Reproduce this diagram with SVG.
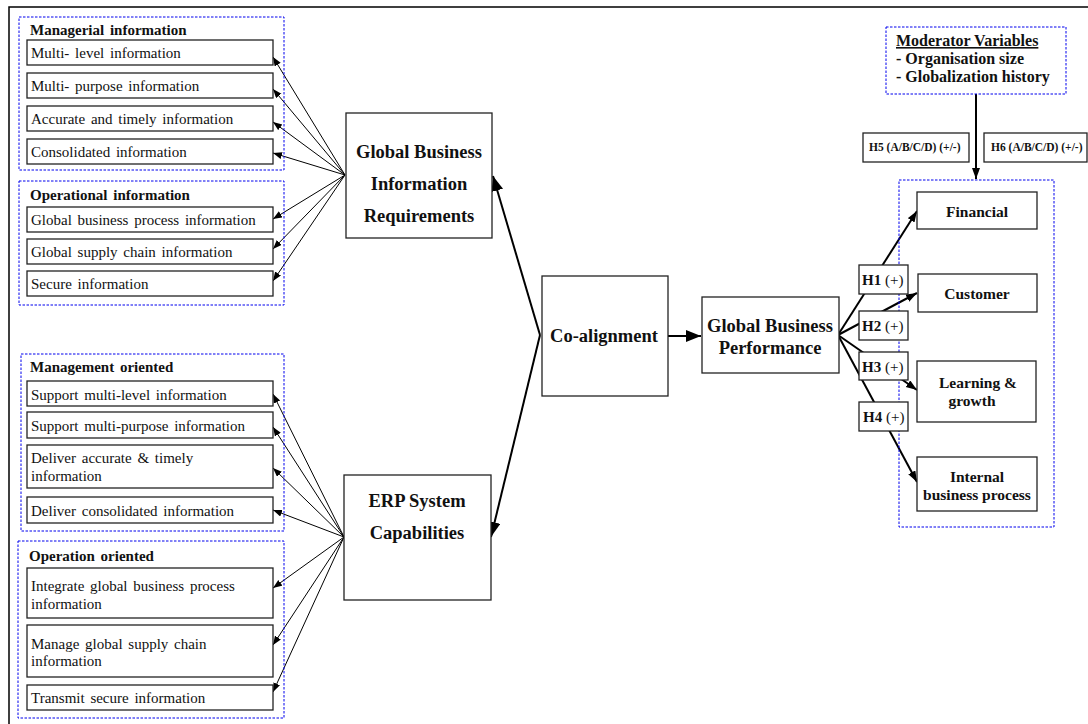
<svg xmlns="http://www.w3.org/2000/svg" width="1088" height="724" viewBox="0 0 1088 724">
<style>
.frame{fill:none;stroke:#000;stroke-width:1.5}
.grp{fill:none;stroke:#0000ee;stroke-width:1;stroke-dasharray:2.5,1.5}
.box{fill:#fff;stroke:#222;stroke-width:1.3}
.t{font-family:"Liberation Serif","Times New Roman",serif;font-size:15px;word-spacing:2px;fill:#111}
.tb{font-family:"Liberation Serif","Times New Roman",serif;font-size:15px;word-spacing:2px;font-weight:bold;fill:#111}
.big{font-family:"Liberation Serif","Times New Roman",serif;font-size:18.5px;font-weight:bold;fill:#111;text-anchor:middle}
.mid{font-family:"Liberation Serif","Times New Roman",serif;font-size:15.5px;font-weight:bold;fill:#111;text-anchor:middle}
.mod{font-family:"Liberation Serif","Times New Roman",serif;font-size:16px;font-weight:bold;fill:#111}
.h{font-family:"Liberation Serif","Times New Roman",serif;font-size:15px;fill:#111}
.hs{font-family:"Liberation Serif","Times New Roman",serif;font-size:11.5px;font-weight:bold;fill:#111}
.thin{stroke:#000;stroke-width:1;fill:none;marker-end:url(#ah)}
.thick{stroke:#000;stroke-width:2;fill:none}
</style>
<defs>
<marker id="ah" markerUnits="userSpaceOnUse" markerWidth="10" markerHeight="8" refX="9" refY="3.5" orient="auto"><path d="M0,0 L9,3.5 L0,7 z" fill="#000"/></marker>
<marker id="ahb" markerUnits="userSpaceOnUse" markerWidth="16" markerHeight="12" refX="15" refY="6" orient="auto"><path d="M0,0 L15,6 L0,12 z" fill="#000"/></marker>
<marker id="ahm" markerUnits="userSpaceOnUse" markerWidth="12" markerHeight="9" refX="11" refY="4" orient="auto"><path d="M0,0 L11,4 L0,8 z" fill="#000"/></marker>
</defs>
<path class="frame" d="M9,724 V7 H1088"/>

<g id="connectors">
<line class="thin" x1="345" y1="175" x2="273" y2="57"/>
<line class="thin" x1="345" y1="175" x2="273" y2="89"/>
<line class="thin" x1="345" y1="175" x2="273" y2="122"/>
<line class="thin" x1="345" y1="175" x2="273" y2="153"/>
<line class="thin" x1="345" y1="175" x2="273" y2="219"/>
<line class="thin" x1="345" y1="175" x2="273" y2="249"/>
<line class="thin" x1="345" y1="175" x2="273" y2="281"/>
<line class="thin" x1="344" y1="537" x2="273" y2="394"/>
<line class="thin" x1="344" y1="537" x2="273" y2="427"/>
<line class="thin" x1="344" y1="537" x2="273" y2="468"/>
<line class="thin" x1="344" y1="537" x2="273" y2="510"/>
<line class="thin" x1="344" y1="537" x2="273" y2="588"/>
<line class="thin" x1="344" y1="537" x2="273" y2="645"/>
<line class="thin" x1="344" y1="537" x2="273" y2="692"/>
<line class="thick" x1="540" y1="335" x2="493" y2="176" marker-end="url(#ahb)"/>
<line class="thick" x1="540" y1="335" x2="491" y2="537" marker-end="url(#ahb)"/>
<line class="thick" x1="668" y1="336" x2="701" y2="336" marker-end="url(#ahb)"/>
<line class="thick" x1="976" y1="94" x2="976" y2="179" marker-end="url(#ahm)"/>
<line class="thick" x1="838" y1="335" x2="917" y2="211" marker-end="url(#ahm)"/>
<line class="thick" x1="838" y1="335" x2="917" y2="293" marker-end="url(#ahm)"/>
<line class="thick" x1="838" y1="335" x2="917" y2="390" marker-end="url(#ahm)"/>
<line class="thick" x1="838" y1="335" x2="917" y2="482" marker-end="url(#ahm)"/>
</g>

<g id="managerial">
<rect class="grp" x="19" y="17" width="265" height="153"/>
<text class="tb" x="30" y="35">Managerial information</text>
<rect class="box" x="27" y="40" width="246" height="25"/><text class="t" x="31" y="58">Multi- level information</text>
<rect class="box" x="27" y="73" width="246" height="25"/><text class="t" x="31" y="91">Multi- purpose information</text>
<rect class="box" x="27" y="106" width="246" height="25"/><text class="t" x="31" y="124">Accurate and timely information</text>
<rect class="box" x="27" y="139" width="246" height="25"/><text class="t" x="31" y="157">Consolidated information</text>
</g>

<g id="operational">
<rect class="grp" x="19" y="181" width="265" height="124"/>
<text class="tb" x="30" y="200">Operational information</text>
<rect class="box" x="27" y="207" width="246" height="25"/><text class="t" x="31" y="225">Global business process information</text>
<rect class="box" x="27" y="239" width="246" height="25"/><text class="t" x="31" y="257">Global supply chain information</text>
<rect class="box" x="27" y="271" width="246" height="25"/><text class="t" x="31" y="289">Secure information</text>
</g>

<g id="management-oriented">
<rect class="grp" x="21" y="354" width="263" height="177"/>
<text class="tb" x="30" y="372">Management oriented</text>
<rect class="box" x="27" y="381" width="246" height="25"/><text class="t" x="31" y="400">Support multi-level information</text>
<rect class="box" x="27" y="412" width="246" height="26"/><text class="t" x="31" y="431">Support multi-purpose information</text>
<rect class="box" x="27" y="445" width="246" height="43"/><text class="t" x="31" y="463">Deliver accurate &amp; timely</text><text class="t" x="31" y="481">information</text>
<rect class="box" x="27" y="497" width="246" height="26"/><text class="t" x="31" y="516">Deliver consolidated information</text>
</g>

<g id="operation-oriented">
<rect class="grp" x="18" y="541" width="266" height="177"/>
<text class="tb" x="29" y="561">Operation oriented</text>
<rect class="box" x="27" y="568" width="246" height="50"/><text class="t" x="31" y="591">Integrate global business process</text><text class="t" x="31" y="609">information</text>
<rect class="box" x="27" y="625" width="246" height="52"/><text class="t" x="31" y="649">Manage global supply chain</text><text class="t" x="31" y="666">information</text>
<rect class="box" x="27" y="685" width="246" height="25"/><text class="t" x="31" y="703">Transmit secure information</text>
</g>

<g id="gbir">
<rect class="box" x="346" y="113" width="146" height="125"/>
<text class="big" x="419" y="158">Global Business</text>
<text class="big" x="419" y="190">Information</text>
<text class="big" x="419" y="222">Requirements</text>
</g>

<g id="erp">
<rect class="box" x="344" y="475" width="147" height="125"/>
<text class="big" x="417" y="507">ERP System</text>
<text class="big" x="417" y="539">Capabilities</text>
</g>

<g id="coalignment">
<rect class="box" x="542" y="276" width="126" height="120"/>
<text class="big" x="604" y="342">Co-alignment</text>
</g>

<g id="gbp">
<rect class="box" x="702" y="297" width="137" height="76"/>
<text class="big" x="770" y="332">Global Business</text>
<text class="big" x="770" y="354">Performance</text>
</g>

<g id="moderator">
<rect class="grp" x="886" y="27" width="180" height="67"/>
<text class="mod" x="896" y="46" text-decoration="underline">Moderator Variables</text>
<text class="mod" x="896" y="64">- Organisation size</text>
<text class="mod" x="896" y="82">- Globalization history</text>
</g>

<g id="h5">
<rect class="box" x="863" y="133" width="106" height="29"/>
<text class="hs" x="869" y="151">H5 (A/B/C/D) (+/-)</text>
</g>
<g id="h6">
<rect class="box" x="984" y="133" width="103" height="29"/>
<text class="hs" x="991" y="151">H6 (A/B/C/D) (+/-)</text>
</g>

<g id="performance-group">
<rect class="grp" x="899" y="180" width="155" height="347"/>
</g>

<g id="financial">
<rect class="box" x="917" y="192" width="120" height="37"/>
<text class="mid" x="977" y="217">Financial</text>
</g>
<g id="customer">
<rect class="box" x="918" y="274" width="119" height="38"/>
<text class="mid" x="977" y="299">Customer</text>
</g>
<g id="learning">
<rect class="box" x="917" y="361" width="119" height="61"/>
<text class="mid" x="978" y="388">Learning &amp;</text>
<text class="mid" x="972" y="406">growth</text>
</g>
<g id="internal">
<rect class="box" x="917" y="457" width="120" height="54"/>
<text class="mid" x="977" y="482">Internal</text>
<text class="mid" x="977" y="500">business process</text>
</g>

<g id="h1">
<rect class="box" x="859" y="265" width="49" height="29"/>
<text class="h" x="862" y="285"><tspan font-weight="bold">H1</tspan> (+)</text>
</g>
<g id="h2">
<rect class="box" x="859" y="311" width="49" height="29"/>
<text class="h" x="862" y="331"><tspan font-weight="bold">H2</tspan> (+)</text>
</g>
<g id="h3">
<rect class="box" x="859" y="352" width="49" height="28"/>
<text class="h" x="862" y="372"><tspan font-weight="bold">H3</tspan> (+)</text>
</g>
<g id="h4">
<rect class="box" x="859" y="402" width="49" height="29"/>
<text class="h" x="863" y="422"><tspan font-weight="bold">H4</tspan> (+)</text>
</g>
</svg>
